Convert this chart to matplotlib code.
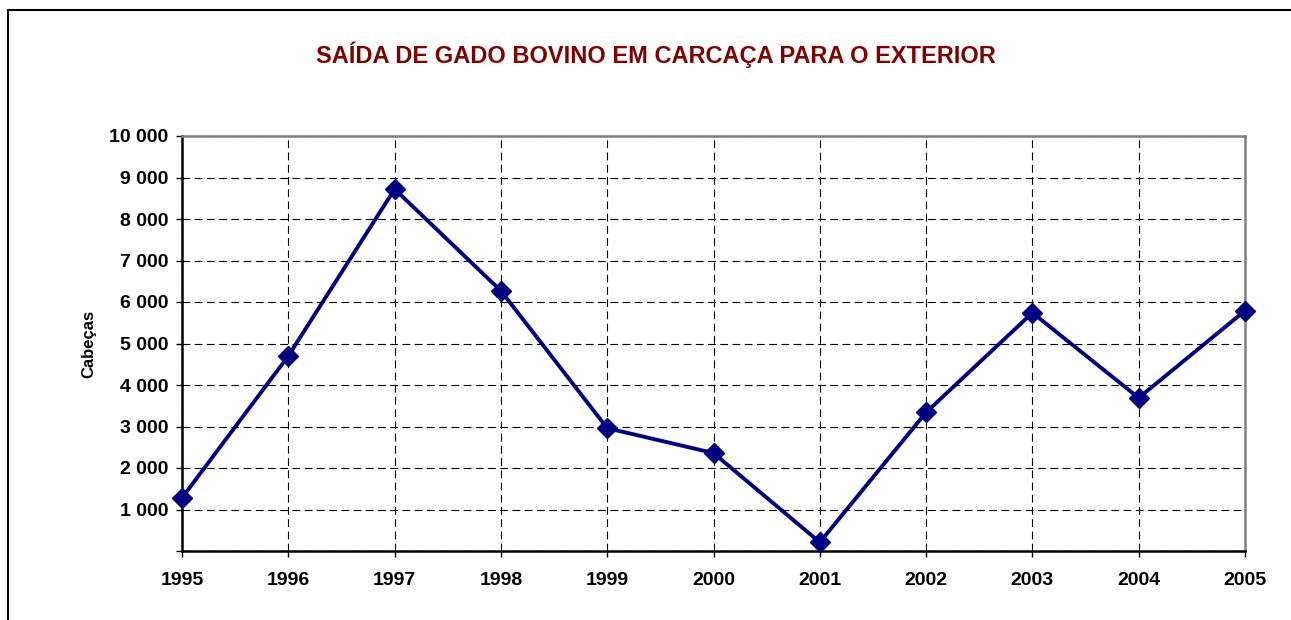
import matplotlib.pyplot as plt
from matplotlib.patches import Rectangle
from matplotlib.ticker import FuncFormatter

anos = [1995, 1996, 1997, 1998, 1999, 2000, 2001, 2002, 2003, 2004, 2005]
cabecas = [1280, 4700, 8720, 6270, 2960, 2360, 210, 3340, 5740, 3690, 5790]

plt.rcParams['font.family'] = ['Liberation Sans', 'DejaVu Sans']

fig = plt.figure(figsize=(12.91, 6.2), dpi=100)
ax = fig.add_axes([182 / 1291, 1 - 551 / 620, (1245 - 182) / 1291, (551 - 136) / 620])

# moldura externa do grafico
fig.patches.append(Rectangle((7.5 / 1291, -0.1), 1.2, 1.1 - 10.5 / 620,
                             transform=fig.transFigure, fill=False,
                             edgecolor='black', linewidth=1.5))

ax.plot(anos, cabecas, color='#000080', linewidth=2.8, marker='D',
        markersize=10, markeredgecolor='#000080', markerfacecolor='#000080',
        zorder=3, clip_on=False)

ax.set_xlim(1995, 2005)
ax.set_ylim(0, 10000)
ax.set_xticks(anos)
ax.set_yticks(range(0, 10001, 1000))

def fmt(v, pos):
    if v == 0:
        return ''
    return '{:,.0f}'.format(v).replace(',', ' ')

ax.yaxis.set_major_formatter(FuncFormatter(fmt))

ax.grid(True, color='black', linestyle=(0, (7, 4)), linewidth=0.8)
ax.tick_params(axis='both', direction='out', length=4, width=1, labelsize=14)
ax.tick_params(axis='x', pad=11)
ax.tick_params(axis='y', pad=6)
for lbl in ax.get_xticklabels() + ax.get_yticklabels():
    lbl.set_fontweight('bold')

ax.spines['left'].set_linewidth(1.8)
ax.spines['bottom'].set_linewidth(1.8)
ax.spines['top'].set_color('#808080')
ax.spines['right'].set_color('#808080')
ax.spines['top'].set_linewidth(1.8)
ax.spines['right'].set_linewidth(1.8)

ax.set_ylabel('Cabeças', fontsize=12, fontweight='bold', labelpad=9)
fig.text(656 / 1291, 1 - 55 / 620, 'SAÍDA DE GADO BOVINO EM CARCAÇA PARA O EXTERIOR',
         ha='center', va='center', fontsize=17, fontweight='bold', color='#800000')

fig.savefig('out.png', dpi=100)
